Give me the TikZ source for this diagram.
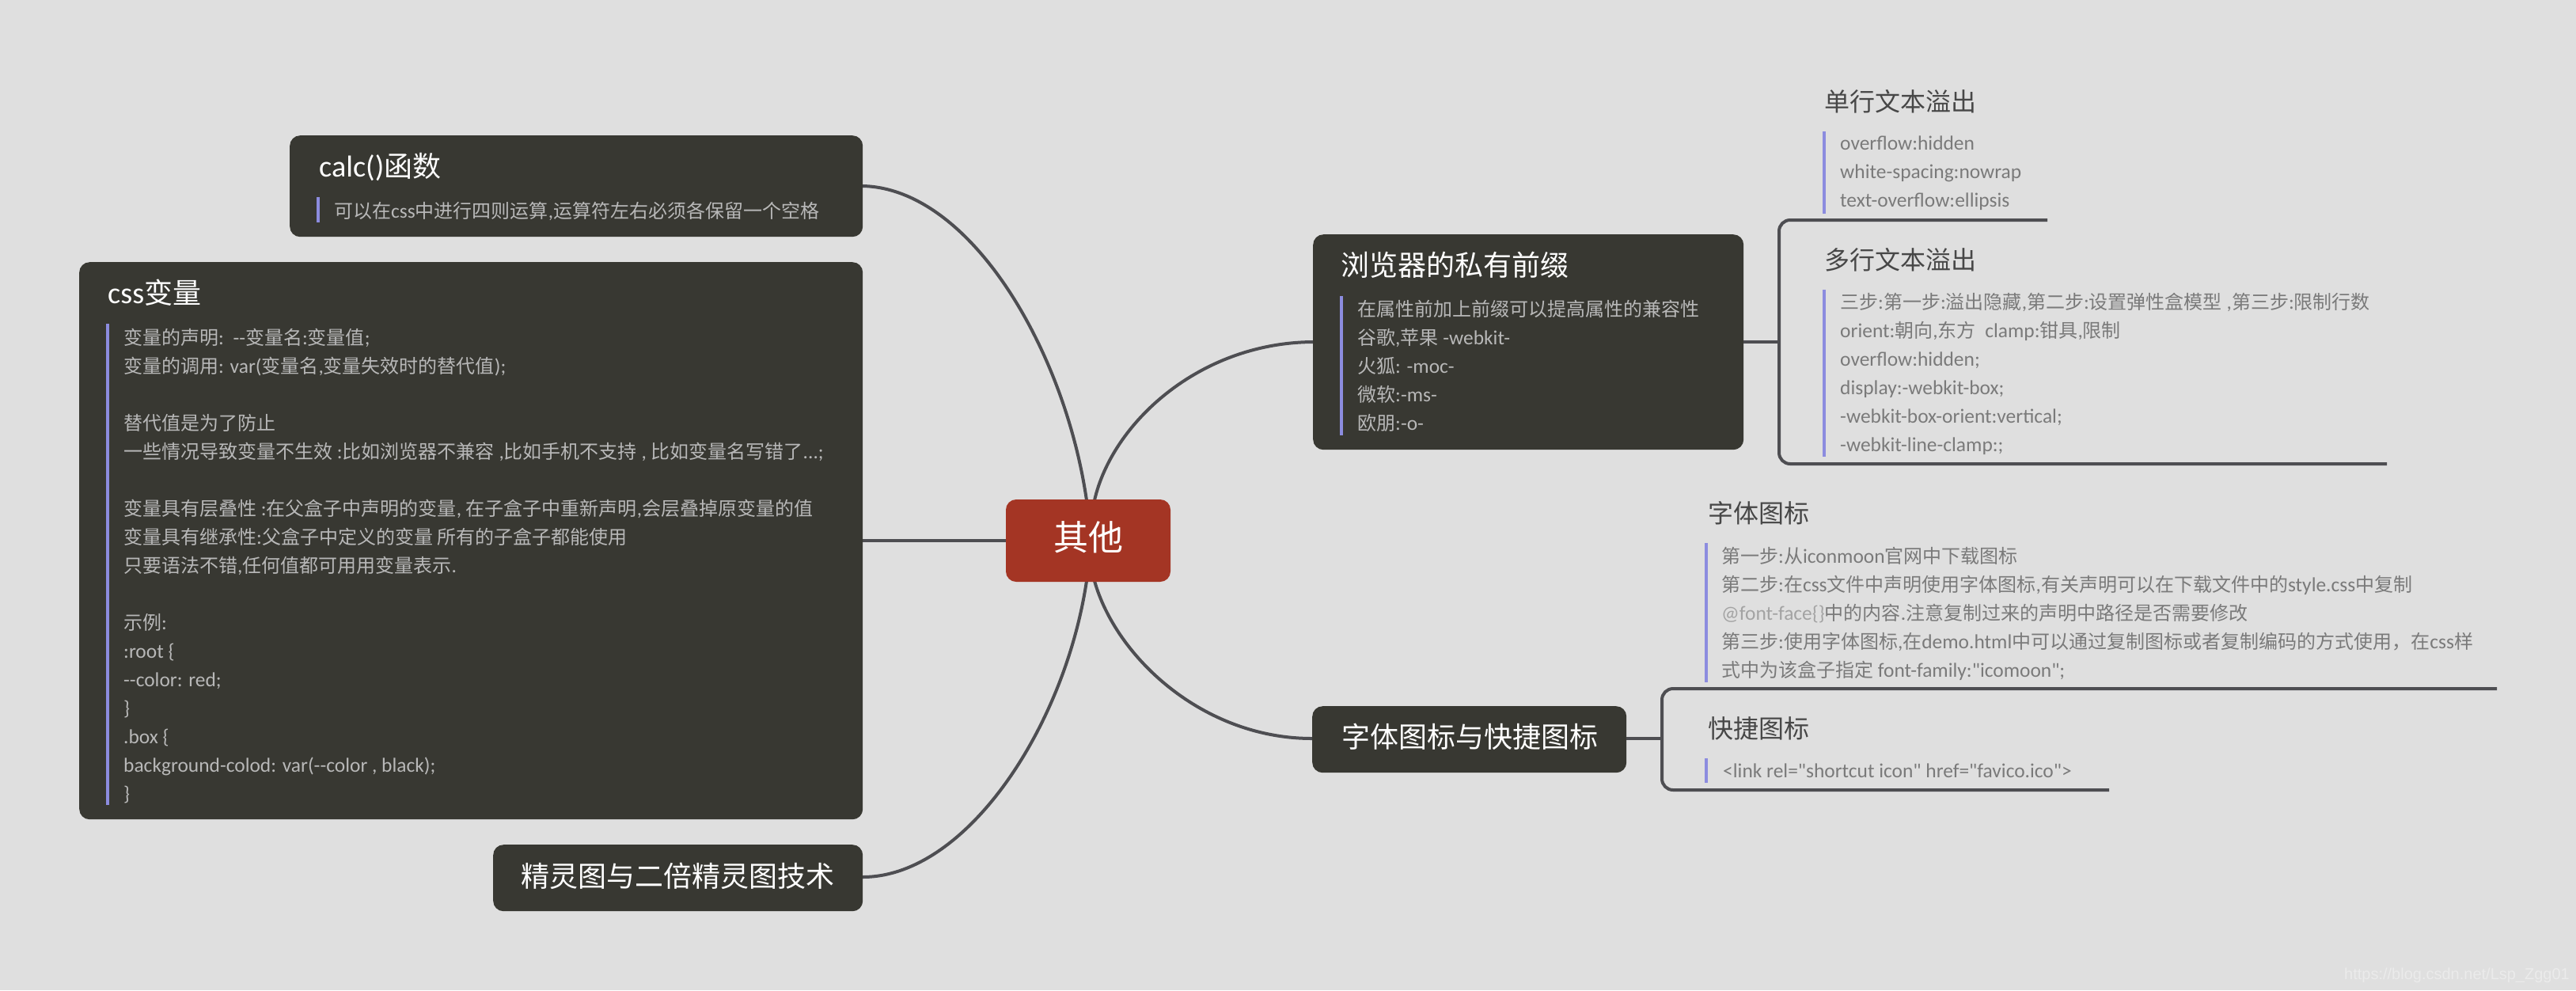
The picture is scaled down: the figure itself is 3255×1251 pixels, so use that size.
\documentclass[tikz,border=0pt]{standalone}
\usepackage{fontspec}
\newfontfamily\hanfont{Noto Sans CJK SC}
\newfontfamily\latinfont{Carlito}[Scale=1.06]
\newfontfamily\markfont{Liberation Sans}
\newXeTeXintercharclass\hanclass
\newcount\hanchar
\def\markhan#1#2{\hanchar=#1 \loop \XeTeXcharclass\hanchar=\hanclass \ifnum\hanchar<#2 \advance\hanchar by 1 \repeat}
\markhan{"3000}{"303F}
\markhan{"4E00}{"9FFF}
\markhan{"FF00}{"FFEF}
\XeTeXinterchartokenstate=1
\XeTeXinterchartoks 0 \hanclass={\hanfont}
\XeTeXinterchartoks 4095 \hanclass={\hanfont}
\XeTeXinterchartoks \hanclass 0={\latinfont}
\XeTeXinterchartoks \hanclass 4095={\latinfont}
\usetikzlibrary{backgrounds}
\definecolor{paper}{HTML}{DFDFDF}
\definecolor{slate}{HTML}{383832}
\definecolor{rust}{HTML}{A43524}
\definecolor{wire}{HTML}{4E4E52}
\definecolor{barblue}{HTML}{8C8CDF}
\tikzset{
  topicbox/.style={fill=slate,rounded corners=13pt,inner sep=0pt,anchor=north west},
  wireline/.style={draw=wire,line width=4pt},
  notebar/.style={draw=barblue,line width=4pt},
  boxtitle/.style={anchor=west,inner sep=0pt,text=white,font=\latinfont\fontsize{36}{44}\selectfont},
  leaftitle/.style={anchor=west,inner sep=0pt,text=black!72,font=\latinfont\fontsize{32}{40}\selectfont},
  darknote/.style={anchor=north west,inner sep=0pt,align=left,text=black!28,
    font=\latinfont\fontsize{24}{36}\selectfont,execute at begin node=\rule{0pt}{22pt}},
  lightnote/.style={anchor=north west,inner sep=0pt,align=left,text=black!52,
    font=\latinfont\fontsize{24}{36}\selectfont,execute at begin node=\rule{0pt}{22pt}}
}
\begin{document}
\begin{tikzpicture}[x=1pt,y=-1pt]
    \useasboundingbox (0,0) rectangle (3255,1251);

    \node[topicbox,minimum width=724pt,minimum height=128pt] (calcbox) at (366,171) {};
    \node[topicbox,minimum width=990pt,minimum height=704pt] (cssbox) at (100,331) {};
    \node[topicbox,minimum width=467pt,minimum height=84pt] (spritebox) at (623,1067) {};
    \node[topicbox,minimum width=544pt,minimum height=272pt] (prefixbox) at (1659,296) {};
    \node[topicbox,minimum width=397pt,minimum height=84pt] (iconbox) at (1658,892) {};
    \node[fill=rust,rounded corners=13pt,minimum width=208pt,minimum height=104pt,inner sep=0pt,
          text=white,text depth=11pt,font=\latinfont\fontsize{44}{52}\selectfont] (hub) at (1375,683) {其他};

    \coordinate (hubtl) at (1373,632);
    \coordinate (hubtr) at (1383,632);
    \coordinate (hubbl) at (1373,734);
    \coordinate (hubbr) at (1383,734);
    \coordinate (calcend) at (1090,235);
    \coordinate (spriteend) at (1090,1108);
    \coordinate (prefixend) at (1659,432);
    \coordinate (iconend) at (1658,933);

    \begin{scope}[on background layer]
        \fill[paper] (0,0) rectangle (3255,1251);
        \draw[wireline] (hubtl) .. controls (1345,440) and (1225,238) .. (calcend);
        \draw[wireline] (hubbl) .. controls (1345,920) and (1220,1108) .. (spriteend);
        \draw[wireline] (hubtr) .. controls (1405,535) and (1515,433) .. (prefixend);
        \draw[wireline] (hubbr) .. controls (1410,830) and (1520,933) .. (iconend);
        \draw[wireline] (hub.west) -- (cssbox.east |- hub.west);
    \end{scope}

    \node[boxtitle] (calctitle) at (403,211) {calc()函数};
    \draw[notebar] (402,249) -- (402,281);
    \node[darknote] (calcnote) at (422,253) {可以在css中进行四则运算,运算符左右必须各保留一个空格};

    \node[boxtitle] (csstitle) at (136,370) {css变量};
    \draw[notebar] (136,409) -- (136,1017);
    \node[darknote] (cssnote) at (156,415) {变量的声明:\ \ --变量名:变量值;\\
        变量的调用: var(变量名,变量失效时的替代值);\\[36pt]
        替代值是为了防止\\
        一些情况导致变量不生效 :比如浏览器不兼容 ,比如手机不支持 , 比如变量名写错了...;\\[36pt]
        变量具有层叠性 :在父盒子中声明的变量, 在子盒子中重新声明,会层叠掉原变量的值\\
        变量具有继承性:父盒子中定义的变量 所有的子盒子都能使用\\
        只要语法不错,任何值都可用用变量表示.\\[36pt]
        示例:\\
        :root \{\\
        --color: red;\\
        \}\\
        .box \{\\
        background-colod: var(--color , black);\\
        \}};

    \node[boxtitle] (spritetitle) at (658,1107) {精灵图与二倍精灵图技术};

    \node[boxtitle] (prefixtitle) at (1694,335) {浏览器的私有前缀};
    \draw[notebar] (1695,374) -- (1695,550);
    \node[darknote] (prefixnote) at (1715,379) {在属性前加上前缀可以提高属性的兼容性\\
        谷歌,苹果 -webkit-\\
        火狐: -moc-\\
        微软:-ms-\\
        欧朋:-o-};

    \coordinate (prefixfork) at (2248,432);
    \coordinate (singleend) at (2587,278);
    \coordinate (multiend) at (3016,586);
    \draw[wireline] (prefixbox.east |- prefixend) -- (prefixfork);
    \draw[wireline,rounded corners=14pt] (singleend) -- (2248,278) -- (2248,586) -- (multiend);

    \node[leaftitle] (singletitle) at (2305,128) {单行文本溢出};
    \draw[notebar] (2305,166) -- (2305,270);
    \node[lightnote] (singlenote) at (2325,172) {overflow:hidden\\
        white-spacing:nowrap\\
        text-overflow:ellipsis};

    \node[leaftitle] (multititle) at (2305,328) {多行文本溢出};
    \draw[notebar] (2305,366) -- (2305,577);
    \node[lightnote] (multinote) at (2325,370) {三步:第一步:溢出隐藏,第二步:设置弹性盒模型 ,第三步:限制行数\\
        orient:朝向,东方\ \ clamp:钳具,限制\\
        overflow:hidden;\\
        display:-webkit-box;\\
        -webkit-box-orient:vertical;\\
        -webkit-line-clamp:;};

    \node[boxtitle] (icontitle) at (1695,931) {字体图标与快捷图标};

    \coordinate (iconfork) at (2100,933);
    \coordinate (fontend) at (3155,870);
    \coordinate (linkend) at (2665,998);
    \draw[wireline] (iconbox.east |- iconend) -- (iconfork);
    \draw[wireline,rounded corners=14pt] (fontend) -- (2100,870) -- (2100,998) -- (linkend);

    \node[leaftitle] (fonttitle) at (2158,648) {字体图标};
    \draw[notebar] (2156,686) -- (2156,862);
    \node[lightnote] (fontnote) at (2175,691) {第一步:从iconmoon官网中下载图标\\
        第二步:在css文件中声明使用字体图标,有关声明可以在下载文件中的style.css中复制\\
        \textcolor{black!36}{@font-face\{\}}中的内容.注意复制过来的声明中路径是否需要修改\\
        第三步:使用字体图标,在demo.html中可以通过复制图标或者复制编码的方式使用，在css样\\
        式中为该盒子指定 font-family:"icomoon";};

    \node[leaftitle] (linktitle) at (2158,920) {快捷图标};
    \draw[notebar] (2156,958) -- (2156,989);
    \node[lightnote] (linknote) at (2177,960) {<link rel="shortcut icon" href="favico.ico">};

    \node[anchor=east,inner sep=0pt,text=white!92!black,font=\markfont\fontsize{20}{24}\selectfont] (stamp) at (3247,1232) {https://blog.csdn.net/Lsp\_Zgg01};
\end{tikzpicture}
\end{document}
